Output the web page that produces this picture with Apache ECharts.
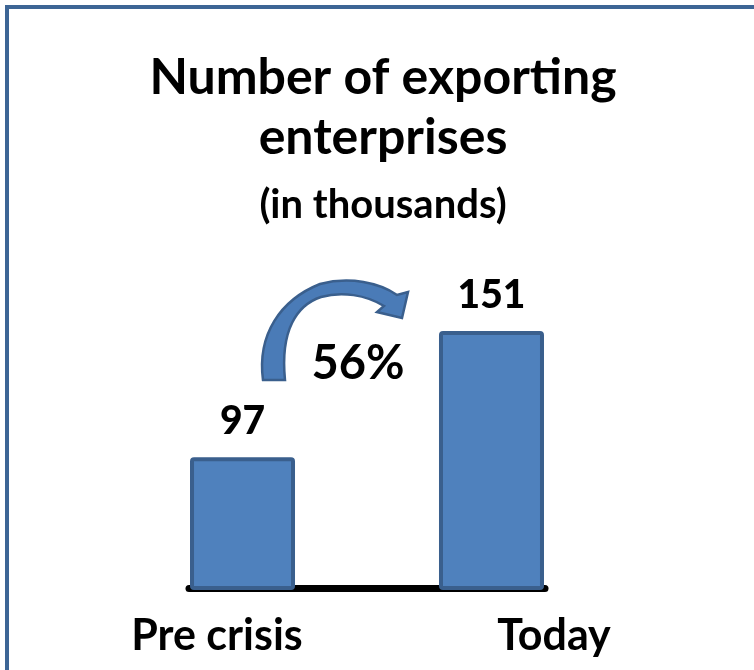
<!DOCTYPE html>
<html>
<head>
<meta charset="utf-8">
<script src="https://cdn.jsdelivr.net/npm/echarts@6/dist/echarts.min.js"></script>
<style>
  html, body { margin: 0; padding: 0; background: #fff; }
  #main { width: 754px; height: 670px; }
</style>
</head>
<body>
<div id="main"></div>
<script>
  // data
  const categories = ['Pre crisis', 'Today']
  const values = [97, 151]
  const growthLabel = '56%'

  const font = 'Lato'
  const barFill = '#4F81BD'
  const barEdge = '#3A5F8D'

  const chart = echarts.init(document.getElementById('main'))

  // each bar sits in its own slot so the two bars are pushed apart
  const series = values.map((v, i) => ({
    type: 'bar',
    data: values.map((x, j) => (j === i ? x : '-')),
    barWidth: 105,
    barGap: '-32.4%',
    itemStyle: {
      color: barFill,
      borderColor: barEdge,
      borderWidth: 4,
      borderRadius: 2
    },
    label: {
      show: true,
      position: 'top',
      distance: 16,
      formatter: '{v|{c}}',
      rich: {
        v: { color: '#000', fontFamily: font, fontWeight: 900, fontSize: 39 }
      }
    }
  }))

  // curved arrow between the bars (decoration only)
  series.push({
    type: 'custom',
    silent: true,
    clip: false,
    data: [0],
    renderItem: function () {
      return {
        type: 'path',
        shape: {
          pathData: 'M 263 380 C 257 335 280 300 320 284 C 350 276 380 283 397 295 L 408 292 L 402 318 L 377 312 L 384 306 C 366 295 342 291 321 297 C 297 305 280 330 285 380 Z'
        },
        style: { fill: '#4A7BB7', stroke: '#3A5F8D', lineWidth: 2.5 }
      }
    }
  })

  const option = {
    backgroundColor: '#fff',
    animation: false,
    title: {
      text: 'Number of exporting\nenterprises',
      subtext: '(in thousands)',
      left: 383,
      top: 48,
      textAlign: 'center',
      padding: 0,
      itemGap: 17,
      textStyle: {
        color: '#000',
        fontFamily: font,
        fontWeight: 'bold',
        fontSize: 50,
        lineHeight: 60
      },
      subtextStyle: {
        color: '#000',
        fontFamily: font,
        fontWeight: 'bold',
        fontSize: 40,
        lineHeight: 40
      }
    },
    grid: {
      left: 189,
      right: 209,
      top: 310,
      bottom: 82,
      containLabel: false
    },
    xAxis: {
      type: 'category',
      data: categories,
      axisLine: { lineStyle: { color: '#000', width: 7 } },
      axisTick: { show: false },
      axisLabel: {
        interval: 0,
        margin: 27,
        formatter: (v, i) => (i === 0 ? '{a|' + v + '}' : '{b|' + v + '}'),
        rich: {
          a: { fontFamily: font, fontWeight: 'bold', fontSize: 43, color: '#000', padding: [0, 122, 0, 0] },
          b: { fontFamily: font, fontWeight: 'bold', fontSize: 43, color: '#000', padding: [0, 0, 0, 196] }
        }
      }
    },
    yAxis: {
      type: 'value',
      min: 41,
      max: 160,
      show: false
    },
    graphic: [
      // frame
      {
        type: 'rect',
        shape: { x: 7, y: 7, width: 800, height: 700 },
        style: { fill: 'none', stroke: '#3D6595', lineWidth: 4 }
      },
      {
        type: 'text',
        style: {
          text: growthLabel,
          x: 358,
          y: 364,
          textAlign: 'center',
          textVerticalAlign: 'middle',
          fill: '#000',
          font: 'bold 47px ' + font
        }
      }
    ],
    series: series
  }

  chart.setOption(option)
  window.addEventListener('resize', function () {
    chart.resize()
  })
</script>
</body>
</html>
